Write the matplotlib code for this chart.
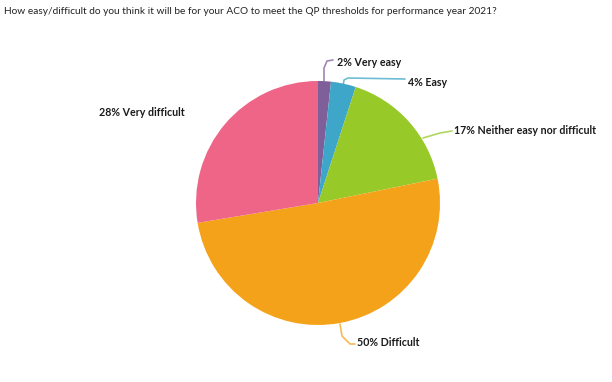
import matplotlib.pyplot as plt

title = "How easy/difficult do you think it will be for your ACO to meet the QP thresholds for performance year 2021?"
categories = ["Very easy", "Easy", "Neither easy nor difficult", "Difficult", "Very difficult"]
shares = [1.7, 3.3, 16.8, 50.6, 27.6]          # measured slice sizes
shown_pct = ["2%", "4%", "17%", "50%", "28%"]  # percentages printed on the chart
colors = ["#7f5f9a", "#3ea6c8", "#97c928", "#f5a21b", "#ee6587"]

plt.rcParams['font.family'] = ['Lato', 'DejaVu Sans']

fig = plt.figure(figsize=(6.12, 3.82), dpi=100)
ax = fig.add_axes([0, 0, 1, 1])

cx, cy, r = 318, 382 - 203, 122
wedges, _ = ax.pie(shares, colors=colors, startangle=90, counterclock=False,
                   center=(cx, cy), radius=r, frame=True,
                   wedgeprops=dict(linewidth=0))
ax.set_xlim(0, 612)
ax.set_ylim(0, 382)
ax.set_aspect('equal')
ax.axis('off')

fig.text(0.006, 1 - 12 / 382, title, fontsize=7.3, color="#222222", va='center', ha='left')

# leader lines (pixel coords, y measured from top)
def px(x, y):
    return x, 382 - y

leaders = [
    [(324, 81), (324, 68), (327, 61), (333, 60)],
    [(343, 86), (344, 80), (348, 78), (405, 79)],
    [(423, 138), (440, 133), (452, 131)],
    [(340, 324), (342, 336), (350, 344), (355, 344)],
    None,
]
label_pos = [(337, 62), (408, 82), (454, 131), (357, 343), (99, 112)]

for i, cat in enumerate(categories):
    if leaders[i]:
        pts = [px(x, y) for x, y in leaders[i]]
        ax.plot([p[0] for p in pts], [p[1] for p in pts], color=colors[i], lw=1.2,
                solid_capstyle='round', alpha=0.75)
    lx, ly = px(*label_pos[i])
    ax.text(lx, ly, f"{shown_pct[i]} {cat}", fontsize=7.7, fontweight='bold',
            color="#1a1a1a", ha='left', va='center')

fig.savefig("out.png", dpi=100)
